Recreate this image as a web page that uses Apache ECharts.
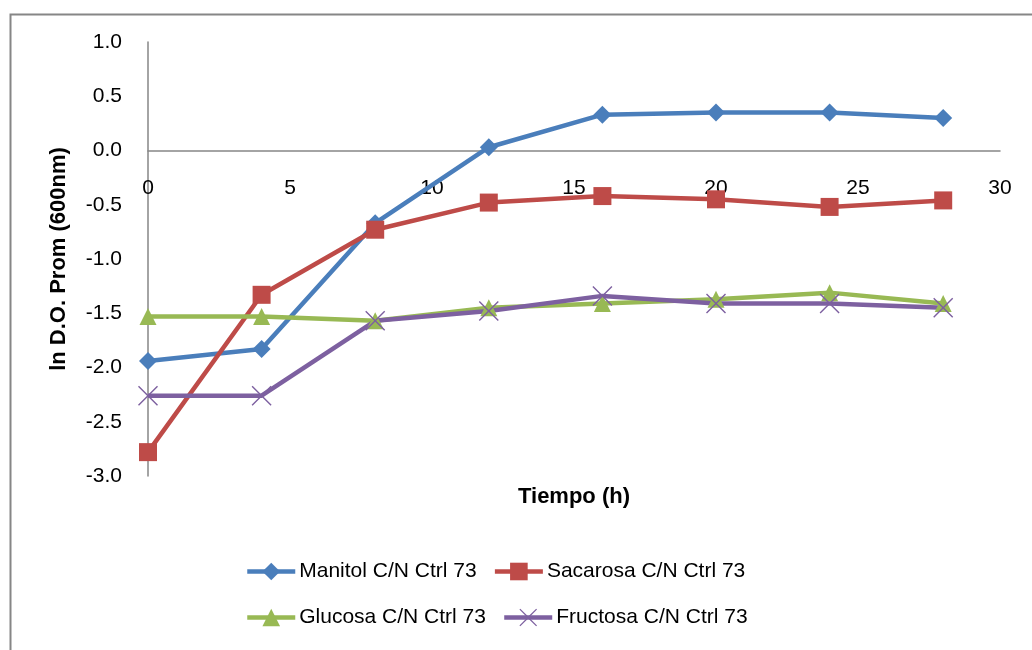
<!DOCTYPE html>
<html>
<head>
<meta charset="utf-8">
<script src="https://cdn.jsdelivr.net/npm/echarts@6/dist/echarts.min.js"></script>
<style>html,body{margin:0;padding:0;background:#fff}#c{width:1032px;height:650px}</style>
</head>
<body>
<div id="c"></div>
<script>
const tiempo = [0, 4, 8, 12, 16, 20, 24, 28];
const manitol = [-1.94, -1.83, -0.67, 0.03, 0.33, 0.35, 0.35, 0.30];
const sacarosa = [-2.78, -1.33, -0.73, -0.48, -0.42, -0.45, -0.52, -0.46];
const glucosa = [-1.53, -1.53, -1.57, -1.45, -1.41, -1.37, -1.31, -1.41];
const fructosa = [-2.26, -2.26, -1.57, -1.48, -1.34, -1.41, -1.41, -1.45];
const names = ['Manitol C/N Ctrl 73', 'Sacarosa C/N Ctrl 73', 'Glucosa C/N Ctrl 73', 'Fructosa C/N Ctrl 73'];
const colors = ['#4A7EBB', '#BE4B48', '#98B954', '#7D60A0'];

const FONT = '"Liberation Sans", Arial, sans-serif';
const xPath = 'path://M0,1L1,0L10,9L19,0L20,1L11,10L20,19L19,20L10,11L1,20L0,19L9,10Z';

function pairs(arr) { return tiempo.map((t, i) => [t, arr[i]]); }
const seriesData = [manitol, sacarosa, glucosa, fructosa];
const symbols = ['diamond', 'rect', 'triangle', xPath];
const sizes = [18, 18, 17, 20];

const GRID_TOP = 42, GRID_BOTTOM_PX = 476, YMIN = -3, YMAX = 1;
const zeroPx = GRID_TOP + (YMAX - 0) / (YMAX - YMIN) * (GRID_BOTTOM_PX - GRID_TOP);

const legendCommon = { itemWidth: 48, itemHeight: 22, itemGap: 16, padding: 0,
  lineStyle: { width: 4.5 },
  textStyle: { fontSize: 21, color: '#000', fontFamily: FONT, padding: [0, 0, 0, -1] } };

const chart = echarts.init(document.getElementById('c'), null, { renderer: 'canvas' });
chart.setOption({
  backgroundColor: '#fff',
  animation: false,
  textStyle: { fontFamily: FONT },
  grid: { left: 148, right: 32, top: GRID_TOP, bottom: 650 - GRID_BOTTOM_PX },
  xAxis: {
    type: 'value', min: 0, max: 30, interval: 5,
    axisLine: { onZero: true, lineStyle: { color: '#868686', width: 1.5 } },
    axisTick: { show: false },
    splitLine: { show: false },
    axisLabel: { color: '#000', fontSize: 21, fontFamily: FONT, margin: Math.round(zeroPx - GRID_BOTTOM_PX) + 27 }
  },
  yAxis: {
    type: 'value', min: YMIN, max: YMAX, interval: 0.5,
    name: 'ln D.O. Prom (600nm)', nameLocation: 'middle', nameGap: 78,
    nameTextStyle: { color: '#000', fontSize: 22, fontWeight: 'bold', fontFamily: FONT },
    axisLine: { show: true, onZero: false, lineStyle: { color: '#868686', width: 1.5 } },
    axisTick: { show: false },
    splitLine: { show: false },
    axisLabel: { color: '#000', fontSize: 21, fontFamily: FONT, margin: 26, formatter: v => v.toFixed(1) }
  },
  legend: [
    Object.assign({ data: [names[0], names[1]], left: 245, top: 561 }, legendCommon),
    Object.assign({ data: [names[2], names[3]], left: 245, top: 607 }, legendCommon)
  ],
  graphic: [
    { type: 'rect', left: 8, top: 12, shape: { width: 1100, height: 700 }, style: { fill: 'none', stroke: '#868686', lineWidth: 2 }, silent: true },
    { type: 'text', x: 574, y: 497, style: { text: 'Tiempo (h)', font: 'bold 22px ' + FONT, fill: '#000', textAlign: 'center', textVerticalAlign: 'middle' } }
  ],
  series: seriesData.map((d, i) => ({
    name: names[i], type: 'line', data: pairs(d),
    symbol: symbols[i], symbolSize: sizes[i], showAllSymbol: true,
    lineStyle: { color: colors[i], width: 4.5 },
    itemStyle: { color: colors[i] }
  }))
});
</script>
</body>
</html>
